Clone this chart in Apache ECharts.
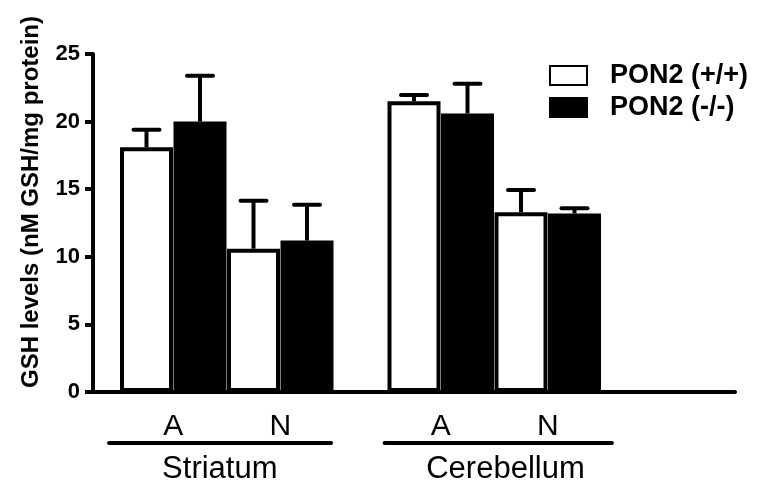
<!DOCTYPE html>
<html>
<head>
<meta charset="utf-8">
<script src="https://cdn.jsdelivr.net/npm/echarts@6/dist/echarts.min.js"></script>
<style>html,body{margin:0;padding:0;background:#fff}#c{width:757px;height:489px}</style>
</head>
<body>
<div id="c"></div>
<script>
// ---- data ----
const regions = ['Striatum', 'Cerebellum'];
const conditions = ['A', 'N', 'A', 'N'];
const seriesNames = ['PON2 (+/+)', 'PON2 (-/-)'];
const wildType = [18.1, 10.6, 21.5, 13.3];
const wildTypeErr = [1.3, 3.55, 0.47, 1.65];
const knockout = [20.0, 11.2, 20.6, 13.2];
const knockoutErr = [3.4, 2.65, 2.2, 0.4];
const yTicks = [0, 5, 10, 15, 20, 25];
const yLabel = 'GSH levels (nM GSH/mg protein)';

// ---- layout (axis units on a hidden value x-axis) ----
const slotCenters = [1.5, 3.5, 6.5, 8.5];
const regionSpans = [[0.3, 4.45, 2.37], [5.45, 9.7, 7.71]];
const FONT = '"Liberation Sans", Arial, sans-serif';

const wtData = wildType.map((v, i) => [slotCenters[i] - 0.5, v]);
const koData = knockout.map((v, i) => [slotCenters[i] + 0.5, v]);
const errData = wildType.map((v, i) => [slotCenters[i] - 0.5, v, wildTypeErr[i]])
  .concat(knockout.map((v, i) => [slotCenters[i] + 0.5, v, knockoutErr[i]]));

const chart = echarts.init(document.getElementById('c'), null, {renderer: 'canvas'});
chart.setOption({
  animation: false,
  backgroundColor: '#fff',
  grid: {left: 93, top: 54, width: 642, height: 338, containLabel: false},
  legend: {
    orient: 'vertical', left: 544, top: 57, itemWidth: 37, itemHeight: 19, itemGap: 5,
    icon: 'rect',
    data: seriesNames,
    textStyle: {fontFamily: FONT, fontWeight: 'bold', fontSize: 27, color: '#000', padding: [0, 0, 0, 18], lineHeight: 27}
  },
  xAxis: {
    type: 'value', min: 0, max: 12,
    axisLine: {show: true, lineStyle: {color: '#000', width: 4, cap: 'round'}},
    axisTick: {show: false},
    splitLine: {show: false},
    axisLabel: {
      show: true, customValues: slotCenters, margin: 20,
      formatter: (v) => { const i = slotCenters.indexOf(v); return i >= 0 ? conditions[i] : ''; },
      fontFamily: FONT, fontSize: 30, color: '#000'
    }
  },
  yAxis: {
    type: 'value', min: 0, max: 25, interval: 5,
    name: yLabel, nameLocation: 'middle', nameRotate: 90, nameGap: 50,
    nameTextStyle: {fontFamily: FONT, fontWeight: 'bold', fontSize: 24, color: '#000', padding: [0, 0, 0, 42]},
    axisLine: {show: true, lineStyle: {color: '#000', width: 4}},
    axisTick: {show: true, inside: false, length: 8, lineStyle: {color: '#000', width: 4}},
    splitLine: {show: false},
    axisLabel: {
      fontFamily: FONT, fontWeight: 'bold', fontSize: 22, color: '#000', margin: 13,
      formatter: (v) => yTicks.indexOf(v) >= 0 ? String(v) : ''
    }
  },
  series: [
    {
      name: seriesNames[0], type: 'bar', data: wtData, barWidth: 53, barGap: '-100%',
      itemStyle: {color: '#fff', borderColor: '#000', borderWidth: 4}, z: 2
    },
    {
      name: seriesNames[1], type: 'bar', data: koData, barWidth: 53, barGap: '-100%',
      itemStyle: {color: '#000', borderColor: '#000', borderWidth: 4}, z: 2
    },
    {
      type: 'custom', data: errData, z: 3, silent: true,
      encode: {x: 0, y: 1},
      renderItem: (params, api) => {
        const x = api.value(0), m = api.value(1), e = api.value(2);
        const p0 = api.coord([x, m]);
        const p1 = api.coord([x, m + e]);
        const st = {stroke: '#000', lineWidth: 4, lineCap: 'round'};
        return {type: 'group', children: [
          {type: 'line', shape: {x1: p0[0], y1: p0[1], x2: p1[0], y2: p1[1]}, style: {stroke: '#000', lineWidth: 4}},
          {type: 'line', shape: {x1: p1[0] - 13, y1: p1[1], x2: p1[0] + 13, y2: p1[1]}, style: st}
        ]};
      }
    },
    {
      type: 'custom', data: regionSpans, z: 3, silent: true, clip: false,
      encode: {x: [0, 1]},
      renderItem: (params, api) => {
        const a = api.coord([api.value(0), 0]);
        const b = api.coord([api.value(1), 0]);
        const c = api.coord([api.value(2), 0]);
        const y = a[1] + 51;
        return {type: 'group', children: [
          {type: 'line', shape: {x1: a[0], y1: y, x2: b[0], y2: y}, style: {stroke: '#000', lineWidth: 4, lineCap: 'round'}},
          {type: 'text', x: c[0], y: y + 26, style: {text: regions[params.dataIndex], fontFamily: FONT, fontSize: 31, fill: '#000', align: 'center', verticalAlign: 'middle'}}
        ]};
      }
    }
  ]
});
</script>
</body>
</html>
